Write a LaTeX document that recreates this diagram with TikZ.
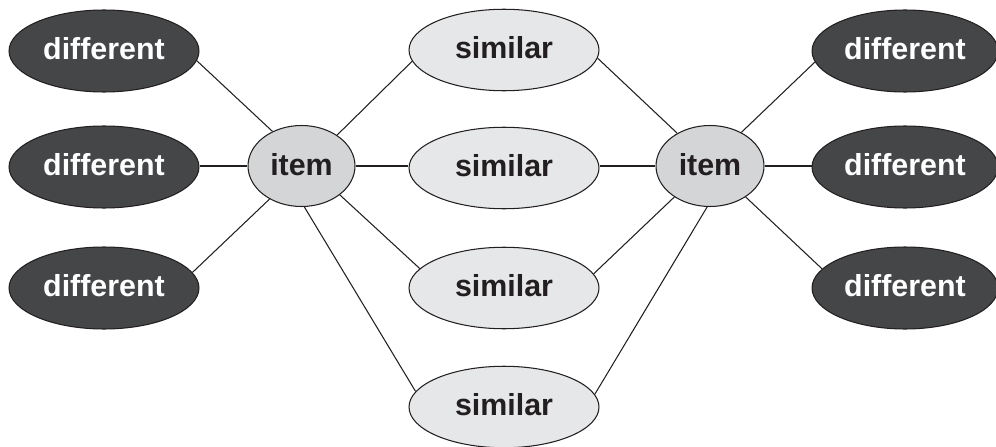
\documentclass[tikz,border=0pt]{standalone}
\usepackage{fontspec}
\setmainfont{Liberation Sans}
\usetikzlibrary{shapes.geometric}
\definecolor{darkfill}{HTML}{454648}
\definecolor{itemfill}{HTML}{D4D5D7}
\definecolor{simfill}{HTML}{E6E7E8}
\definecolor{ink}{HTML}{231F20}
\tikzset{
  base/.style={ellipse, draw=ink, line width=0.6pt, inner sep=0pt, text depth=3.4pt,
    font=\fontsize{17.3}{20}\selectfont\bfseries},
  diff/.style={base, fill=darkfill, text=white, minimum width=3.8cm, minimum height=1.64cm},
  sim/.style={base, fill=simfill, text=ink, minimum width=3.8cm, minimum height=1.63cm},
  itm/.style={base, fill=itemfill, text=ink, text depth=2pt, minimum width=2.14cm, minimum height=1.62cm},
  conn/.style={draw=ink, line width=0.6pt}
}
\begin{document}
\begin{tikzpicture}[x=0.02cm, y=-0.02cm]
\useasboundingbox (0,0) rectangle (996,446);
% left different
\node[diff] (d1) at (104,51) {different};
\node[diff] (d2) at (104,167) {different};
\node[diff] (d3) at (104,288) {different};
% items
\node[itm] (iL) at (301.5,166) {item};
\node[itm, minimum width=2.16cm] (iR) at (710,166) {item};
% similar
\node[sim] (s1) at (504,50) {similar};
\node[sim] (s2) at (504,168) {similar};
\node[sim] (s3) at (504,288) {similar};
\node[sim] (s4) at (504,407) {similar};
% right different
\node[diff, minimum width=3.72cm] (r1) at (905,51) {different};
\node[diff, minimum width=3.72cm] (r2) at (905,167) {different};
\node[diff, minimum width=3.72cm] (r3) at (905,288) {different};
% connectors left
\draw[conn] (d1.-6) -- (iL.130);
\draw[conn] (d2.east |- iL.west) -- (iL.west);
\draw[conn] (d3.10) -- (iL.226);
\draw[conn] (iL.41) -- (s1.187);
\draw[conn] (iL.east) -- (s2.west |- iL.east);
\draw[conn] (iL.-37) -- (s3.167);
\draw[conn] (iL.-86) -- (s4.170);
% connectors right
\draw[conn] (s1.-5.5) -- (iR.135);
\draw[conn] (s2.east |- iR.west) -- (iR.west);
\draw[conn] (s3.9.6) -- (iR.221);
\draw[conn] (s4.8.7) -- (iR.-94);
\draw[conn] (iR.47) -- (r1.187.6);
\draw[conn] (iR.east) -- (r2.west |- iR.east);
\draw[conn] (iR.-41.5) -- (r3.167.6);
\end{tikzpicture}
\end{document}
